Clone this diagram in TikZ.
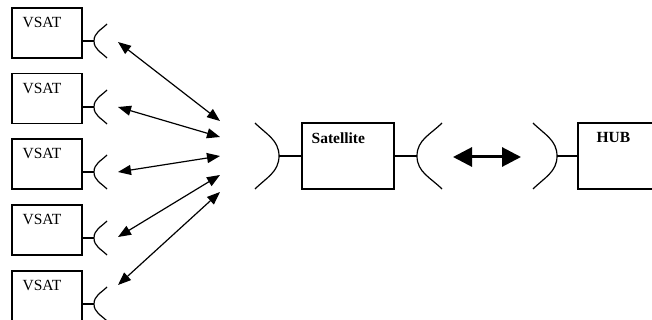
\documentclass[tikz,border=0pt]{standalone}
\usepackage{fontspec}
\setmainfont{Liberation Serif}
\usetikzlibrary{arrows.meta}

\begin{document}
\begin{tikzpicture}[x=1pt,y=-1pt]
	\tikzstyle{box} = [draw,shape=rectangle,line width=1.1pt,minimum width=70pt,minimum height=50pt,inner sep=0pt]
	\tikzstyle{tag} = [anchor=north west,inner sep=0pt,font=\fontsize{15.5}{18}\selectfont]
	\tikzstyle{dish} = [line width=1.2pt]
	\tikzstyle{link} = [line width=1.2pt,{Triangle[length=13pt,width=10pt]}-{Triangle[length=13pt,width=10pt]}]
	\tikzstyle{trunk} = [line width=3pt,{Triangle[length=19pt,width=19pt]}-{Triangle[length=19pt,width=19pt]}]
	\useasboundingbox (0,0) rectangle (652,320);

	% terminals
	\node[box] (VSAT1) at (47,33) {};
	\node[box] (VSAT2) at (47,98.5) {};
	\node[box] (VSAT3) at (47,164) {};
	\node[box] (VSAT4) at (47,230) {};
	\node[box] (VSAT5) at (47,296) {};
	\node[tag] (VSAT1txt) at ([shift={(11,10)}]VSAT1.north west) {VSAT};
	\node[tag] (VSAT2txt) at ([shift={(11,10)}]VSAT2.north west) {VSAT};
	\node[tag] (VSAT3txt) at ([shift={(11,10)}]VSAT3.north west) {VSAT};
	\node[tag] (VSAT4txt) at ([shift={(11,10)}]VSAT4.north west) {VSAT};
	\node[tag] (VSAT5txt) at ([shift={(11,10)}]VSAT5.north west) {VSAT};

	\coordinate (D1) at (94,41);
	\coordinate (D2) at (94,107);
	\coordinate (D3) at (94,172);
	\coordinate (D4) at (94,238);
	\coordinate (D5) at (94,304);
	\draw[dish] (VSAT1.east |- D1) -- (D1);
	\draw[dish] (VSAT2.east |- D2) -- (D2);
	\draw[dish] (VSAT3.east |- D3) -- (D3);
	\draw[dish] (VSAT4.east |- D4) -- (D4);
	\draw[dish] (VSAT5.east |- D5) -- (D5);
	\draw[dish] (107,24) to[out=-135,in=90] (D1) to[out=-90,in=135] (107,58);
	\draw[dish] (107,90) to[out=-135,in=90] (D2) to[out=-90,in=135] (107,124);
	\draw[dish] (107,155) to[out=-135,in=90] (D3) to[out=-90,in=135] (107,189);
	\draw[dish] (107,221) to[out=-135,in=90] (D4) to[out=-90,in=135] (107,255);
	\draw[dish] (107,287) to[out=-135,in=90] (D5) to[out=-90,in=135] (107,321);

	% satellite and hub
	\node[box,minimum width=92pt,minimum height=66pt] (Sat) at (348,156) {};
	\node[tag,font=\fontsize{15.5}{18}\selectfont\bfseries] (Sattxt) at ([shift={(10,10)}]Sat.north west) {Satellite};
	\node[box,minimum width=90pt,minimum height=66pt] (HUB) at (623,156) {};
	\node[tag,font=\fontsize{15.5}{18}\selectfont\bfseries] (HUBtxt) at ([shift={(19,10)}]HUB.north west) {HUB};

	\coordinate (LD) at (279,156);
	\coordinate (RD) at (417,156);
	\coordinate (HD) at (557,156);
	\draw[dish] (Sat.west) -- (LD);
	\draw[dish] (Sat.east) -- (RD);
	\draw[dish] (HUB.west) -- (HD);
	\draw[dish] (255,123) to[out=-45,in=90] (LD) to[out=-90,in=45] (255,189);
	\draw[dish] (442,123) to[out=-135,in=90] (RD) to[out=-90,in=135] (442,189);
	\draw[dish] (533,123) to[out=-45,in=90] (HD) to[out=-90,in=45] (533,189);

	% links
	\coordinate (A1) at (118,42);
	\coordinate (A2) at (118,107);
	\coordinate (A3) at (118,172);
	\coordinate (A4) at (118,237);
	\coordinate (A5) at (118,285);
	\coordinate (S1) at (220,121);
	\coordinate (S2) at (220,137);
	\coordinate (S3) at (220,156);
	\coordinate (S4) at (220,175);
	\coordinate (S5) at (220,192);
	\draw[link] (A1) -- (S1);
	\draw[link] (A2) -- (S2);
	\draw[link] (A3) -- (S3);
	\draw[link] (A4) -- (S4);
	\draw[link] (A5) -- (S5);

	\coordinate (T1) at (453,157);
	\coordinate (T2) at (521,157);
	\draw[trunk] (T1) -- (T2);
\end{tikzpicture}
\end{document}
